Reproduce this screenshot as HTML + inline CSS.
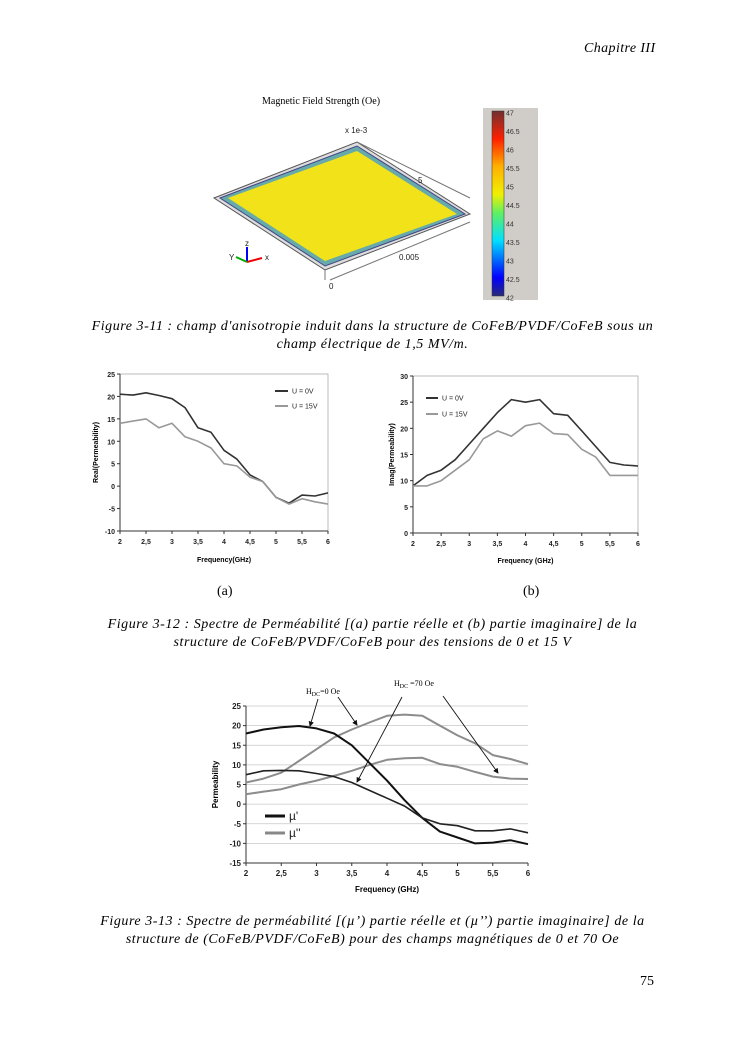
<!DOCTYPE html>
<html><head><meta charset="utf-8"><style>
body{margin:0;width:745px;height:1053px;background:#fff;position:relative;overflow:hidden;font-family:"Liberation Serif",serif}
.t{position:absolute;white-space:nowrap}
.cap{position:absolute;left:0;width:745px;text-align:center;font-style:italic;font-size:14px;line-height:17.5px;letter-spacing:0.55px}
svg{position:absolute;left:0;top:0}
</style></head><body>
<div class="t" style="left:584px;top:41px;font-style:italic;font-size:14px;letter-spacing:0.4px">Chapitre III</div>

<svg width="745" height="1053">
<defs><linearGradient id="cb" x1="0" y1="1" x2="0" y2="0">
<stop offset="0" stop-color="#2a2a7a"/><stop offset="0.1" stop-color="#0000ff"/><stop offset="0.3" stop-color="#00e0ff"/><stop offset="0.45" stop-color="#60f060"/><stop offset="0.55" stop-color="#f0f000"/><stop offset="0.7" stop-color="#ffb000"/><stop offset="0.85" stop-color="#ff2000"/><stop offset="1" stop-color="#703030"/></linearGradient></defs>
<text x="262" y="104" font-size="10" font-family="Liberation Serif">Magnetic Field Strength  (Oe)</text>
<polygon points="214,198 357,142 470,214 325,270" fill="#ddd" stroke="#555" stroke-width="1"/>
<polygon points="220,198 357,146 465,214 325,266" fill="#6aa" stroke="#448"/>
<polygon points="228,198 357,151 457,214 325,261" fill="#f2e21a"/>
<line x1="357" y1="142" x2="470" y2="198" stroke="#777"/><line x1="325" y1="270" x2="325" y2="280" stroke="#777"/>
<line x1="330" y1="280" x2="470" y2="222" stroke="#777"/>
<g font-family="Liberation Sans" font-size="8" fill="#222">
<text x="345" y="133">x 1e-3</text><text x="418" y="183">5</text><text x="399" y="260">0.005</text><text x="329" y="289">0</text>
<text x="229" y="260">Y</text><text x="265" y="260">x</text><text x="245" y="246">z</text></g>
<line x1="247" y1="262" x2="247" y2="247" stroke="#00f" stroke-width="2"/><line x1="247" y1="262" x2="262" y2="258" stroke="#e00" stroke-width="2"/><line x1="247" y1="262" x2="236" y2="257" stroke="#0a0" stroke-width="2"/>
<rect x="483" y="108" width="55" height="192" fill="#d0ccc8"/>
<rect x="492" y="111" width="12" height="185" fill="url(#cb)" stroke="#333" stroke-width="0.5"/>
<g font-family="Liberation Sans" font-size="7" fill="#333" id="cbl"></g>
</svg>
<div class="cap" style="top:318px">Figure 3-11 : champ d'anisotropie induit dans la structure de CoFeB/PVDF/CoFeB sous un<br>champ électrique  de 1,5 MV/m.</div>

<svg width="745" height="1053" id="charts"></svg>

<div class="t" style="left:217px;top:584px;font-size:14px">(a)</div>
<div class="t" style="left:523px;top:584px;font-size:14px">(b)</div>
<div class="cap" style="top:616px">Figure 3-12 : Spectre de Perméabilité [(a) partie réelle et (b) partie imaginaire] de la<br>structure de CoFeB/PVDF/CoFeB pour des tensions de 0 et 15 V</div>
<div class="cap" style="top:913px">Figure 3-13 : Spectre de perméabilité [(µ’) partie réelle et (µ’’) partie imaginaire]  de la<br>structure de (CoFeB/PVDF/CoFeB) pour des champs magnétiques de 0 et 70 Oe</div>
<div class="t" style="left:640px;top:974px;font-size:14px">75</div>

<script>
const freqs=[2,2.25,2.5,2.75,3,3.25,3.5,3.75,4,4.25,4.5,4.75,5,5.25,5.5,5.75,6];
const xTicks=[2,2.5,3,3.5,4,4.5,5,5.5,6];
const xTickLabels=["2","2,5","3","3,5","4","4,5","5","5,5","6"];
const colorbarLabels=["47","46.5","46","45.5","45","44.5","44","43.5","43","42.5","42"];
const realU0=[20.5,20.3,20.8,20.2,19.5,17.5,13,12,8,6,2.5,1,-2.5,-3.8,-2,-2.2,-1.5];
const realU15=[14,14.5,15,13,14,11,10,8.5,5,4.5,2,1,-2.5,-4,-2.8,-3.5,-4];
const realYTicks=[25,20,15,10,5,0,-5,-10];
const imagU0=[9,11,12,14,17,20,23,25.5,25,25.5,22.8,22.5,19.5,16.5,13.5,13,12.8];
const imagU15=[9,9,10,12,14,18,19.5,18.5,20.5,21,19,18.8,16,14.5,11,11,11];
const imagYTicks=[30,25,20,15,10,5,0];
const muReal0=[18,19,19.6,19.9,19.3,18,15,10.5,6,1,-3.5,-7,-8.5,-10,-9.8,-9.2,-10.2];
const muReal70=[7.5,8.5,8.6,8.5,7.8,7,5.5,3.5,1.5,-0.5,-3.5,-5,-5.5,-6.8,-6.8,-6.3,-7.3];
const muImag0=[5.5,6.5,8,11,14,17,19,20.8,22.5,22.8,22.5,20,17.5,15.5,12.5,11.5,10.2];
const muImag70=[2.5,3.2,3.8,5,6,7.2,8.5,10,11.3,11.7,11.8,10.2,9.5,8.2,7,6.5,6.4];
const muYTicks=[25,20,15,10,5,0,-5,-10,-15];

const NS="http://www.w3.org/2000/svg";
function mk(p,tag,at,txt){const e=document.createElementNS(NS,tag);for(const k in at)e.setAttribute(k,at[k]);if(txt!==undefined)e.textContent=txt;p.appendChild(e);return e;}
const cbl=document.getElementById('cbl');
colorbarLabels.forEach((l,i)=>{const e=mk(cbl,'text',{x:506,y:113+i*185/10+2.5},l);

});

const root=document.getElementById('charts');
function chart(o){
  const g=mk(root,'g',{});
  
  
  const X=v=>o.x0+(v-2)/4*(o.x1-o.x0);
  const Y=v=>o.y0+(o.ymax-v)/(o.ymax-o.ymin)*(o.y1-o.y0);
  if(o.grid){o.yTicks.forEach(t=>{const l=mk(g,'line',{x1:o.x0,x2:o.x1,y1:Y(t),y2:Y(t),stroke:'#c8c8c8','stroke-width':0.8});
  
  });}
  if(o.box)mk(g,'rect',{x:o.x0,y:o.y0,width:o.x1-o.x0,height:o.y1-o.y0,fill:'none',stroke:'#aaa','stroke-width':0.8});
  mk(g,'path',{d:`M${o.x0},${o.y0}V${o.y1}H${o.x1}`,fill:'none',stroke:'#333','stroke-width':1});
  o.yTicks.forEach(t=>{mk(g,'line',{x1:o.x0-3,x2:o.x0,y1:Y(t),y2:Y(t),stroke:'#333'});
    const e=mk(g,'text',{x:o.x0-5,y:Y(t)+3,'text-anchor':'end','font-size':o.fs,'font-family':'Liberation Sans','font-weight':'bold',fill:'#222'},String(t));
    
    });
  xTicks.forEach((t,i)=>{mk(g,'line',{x1:X(t),x2:X(t),y1:o.y1,y2:o.y1+3,stroke:'#333'});
    const e=mk(g,'text',{x:X(t),y:o.y1+13,'text-anchor':'middle','font-size':o.fs,'font-family':'Liberation Sans','font-weight':'bold',fill:'#222'},xTickLabels[i]);
    
    });
  o.series.forEach(s=>{const d=freqs.map((f,i)=>(i?'L':'M')+X(f).toFixed(1)+','+Y(s.v[i]).toFixed(1)).join('');
    const p=mk(g,'path',{d:d,fill:'none',stroke:s.c,'stroke-width':s.w,'stroke-linejoin':'round'});
    
    });
  const xl=mk(g,'text',{x:(o.x0+o.x1)/2,y:o.xly,'text-anchor':'middle','font-size':o.lfs,'font-family':'Liberation Sans','font-weight':'bold'},o.xl);
  
  
  const yl=mk(g,'text',{x:0,y:0,transform:`translate(${o.ylx},${(o.y0+o.y1)/2}) rotate(-90)`,'text-anchor':'middle','font-size':o.lfs,'font-family':'Liberation Sans','font-weight':'bold'},o.yl);
  
  
  o.legend.forEach(L=>{mk(g,'line',{x1:L.x,x2:L.x+L.len,y1:L.y,y2:L.y,stroke:L.c,'stroke-width':L.w});
    const t=mk(g,'text',{x:L.x+L.len+4,y:L.y+L.fs*0.35,'font-size':L.fs,'font-family':'Liberation Sans',fill:'#222'},L.t);
    
    });
}
chart({name:'real-permeability-chart',x0:120,x1:328,y0:374,y1:531,ymax:25,ymin:-10,yTicks:realYTicks,fs:7,lfs:7,box:true,
 xl:'Frequency(GHz)',xly:562,yl:'Real(Permeability)',ylx:98,
 series:[{v:realU0,c:'#333',w:1.6,n:'series-u0v'},{v:realU15,c:'#999',w:1.6,n:'series-u15v'}],
 legend:[{x:275,y:391,len:13,c:'#333',w:2,t:'U = 0V',fs:7},{x:275,y:406,len:13,c:'#999',w:2,t:'U = 15V',fs:7}]});
chart({name:'imag-permeability-chart',x0:413,x1:638,y0:376,y1:533,ymax:30,ymin:0,yTicks:imagYTicks,fs:7,lfs:7,box:true,
 xl:'Frequency (GHz)',xly:563,yl:'Imag(Permeability)',ylx:394,
 series:[{v:imagU0,c:'#333',w:1.6,n:'series-u0v'},{v:imagU15,c:'#999',w:1.6,n:'series-u15v'}],
 legend:[{x:426,y:398,len:12,c:'#333',w:2,t:'U = 0V',fs:7},{x:426,y:414,len:12,c:'#999',w:2,t:'U = 15V',fs:7}]});
chart({name:'permeability-field-chart',x0:246,x1:528,y0:706,y1:863,ymax:25,ymin:-15,yTicks:muYTicks,fs:8,lfs:8,box:false,grid:true,
 xl:'Frequency (GHz)',xly:892,yl:'Permeability',ylx:218,
 series:[{v:muImag0,c:'#8c8c8c',w:2,n:'series-mu2-0oe'},{v:muImag70,c:'#8c8c8c',w:2,n:'series-mu2-70oe'},{v:muReal0,c:'#111',w:2,n:'series-mu1-0oe'},{v:muReal70,c:'#222',w:1.6,n:'series-mu1-70oe'}],
 legend:[{x:265,y:816,len:20,c:'#111',w:3,t:'µ\'',fs:12},{x:265,y:833,len:20,c:'#888',w:3,t:'µ\'\'',fs:12}]});
const ann=mk(root,'g',{});


mk(ann,'defs',{}).innerHTML='<marker id="ah" markerWidth="6" markerHeight="6" refX="5" refY="3" orient="auto"><path d="M0,0L6,3L0,6Z" fill="#111"/></marker>';
const a1=mk(ann,'text',{x:306,y:694,'font-size':8,'font-family':'Liberation Serif'});a1.innerHTML='H<tspan font-size="6" dy="2">DC</tspan><tspan dy="-2">=0 Oe</tspan>';


const a2=mk(ann,'text',{x:394,y:686,'font-size':8,'font-family':'Liberation Serif'});a2.innerHTML='H<tspan font-size="6" dy="2">DC</tspan><tspan dy="-2"> =70 Oe</tspan>';


[[318,699,310,726],[338,697,357,725],[402,697,357,782],[443,696,498,773]].forEach(a=>{
 const l=mk(ann,'line',{x1:a[0],y1:a[1],x2:a[2],y2:a[3],stroke:'#111','stroke-width':0.9,'marker-end':'url(#ah)'});
 
 });
</script>
</body></html>
